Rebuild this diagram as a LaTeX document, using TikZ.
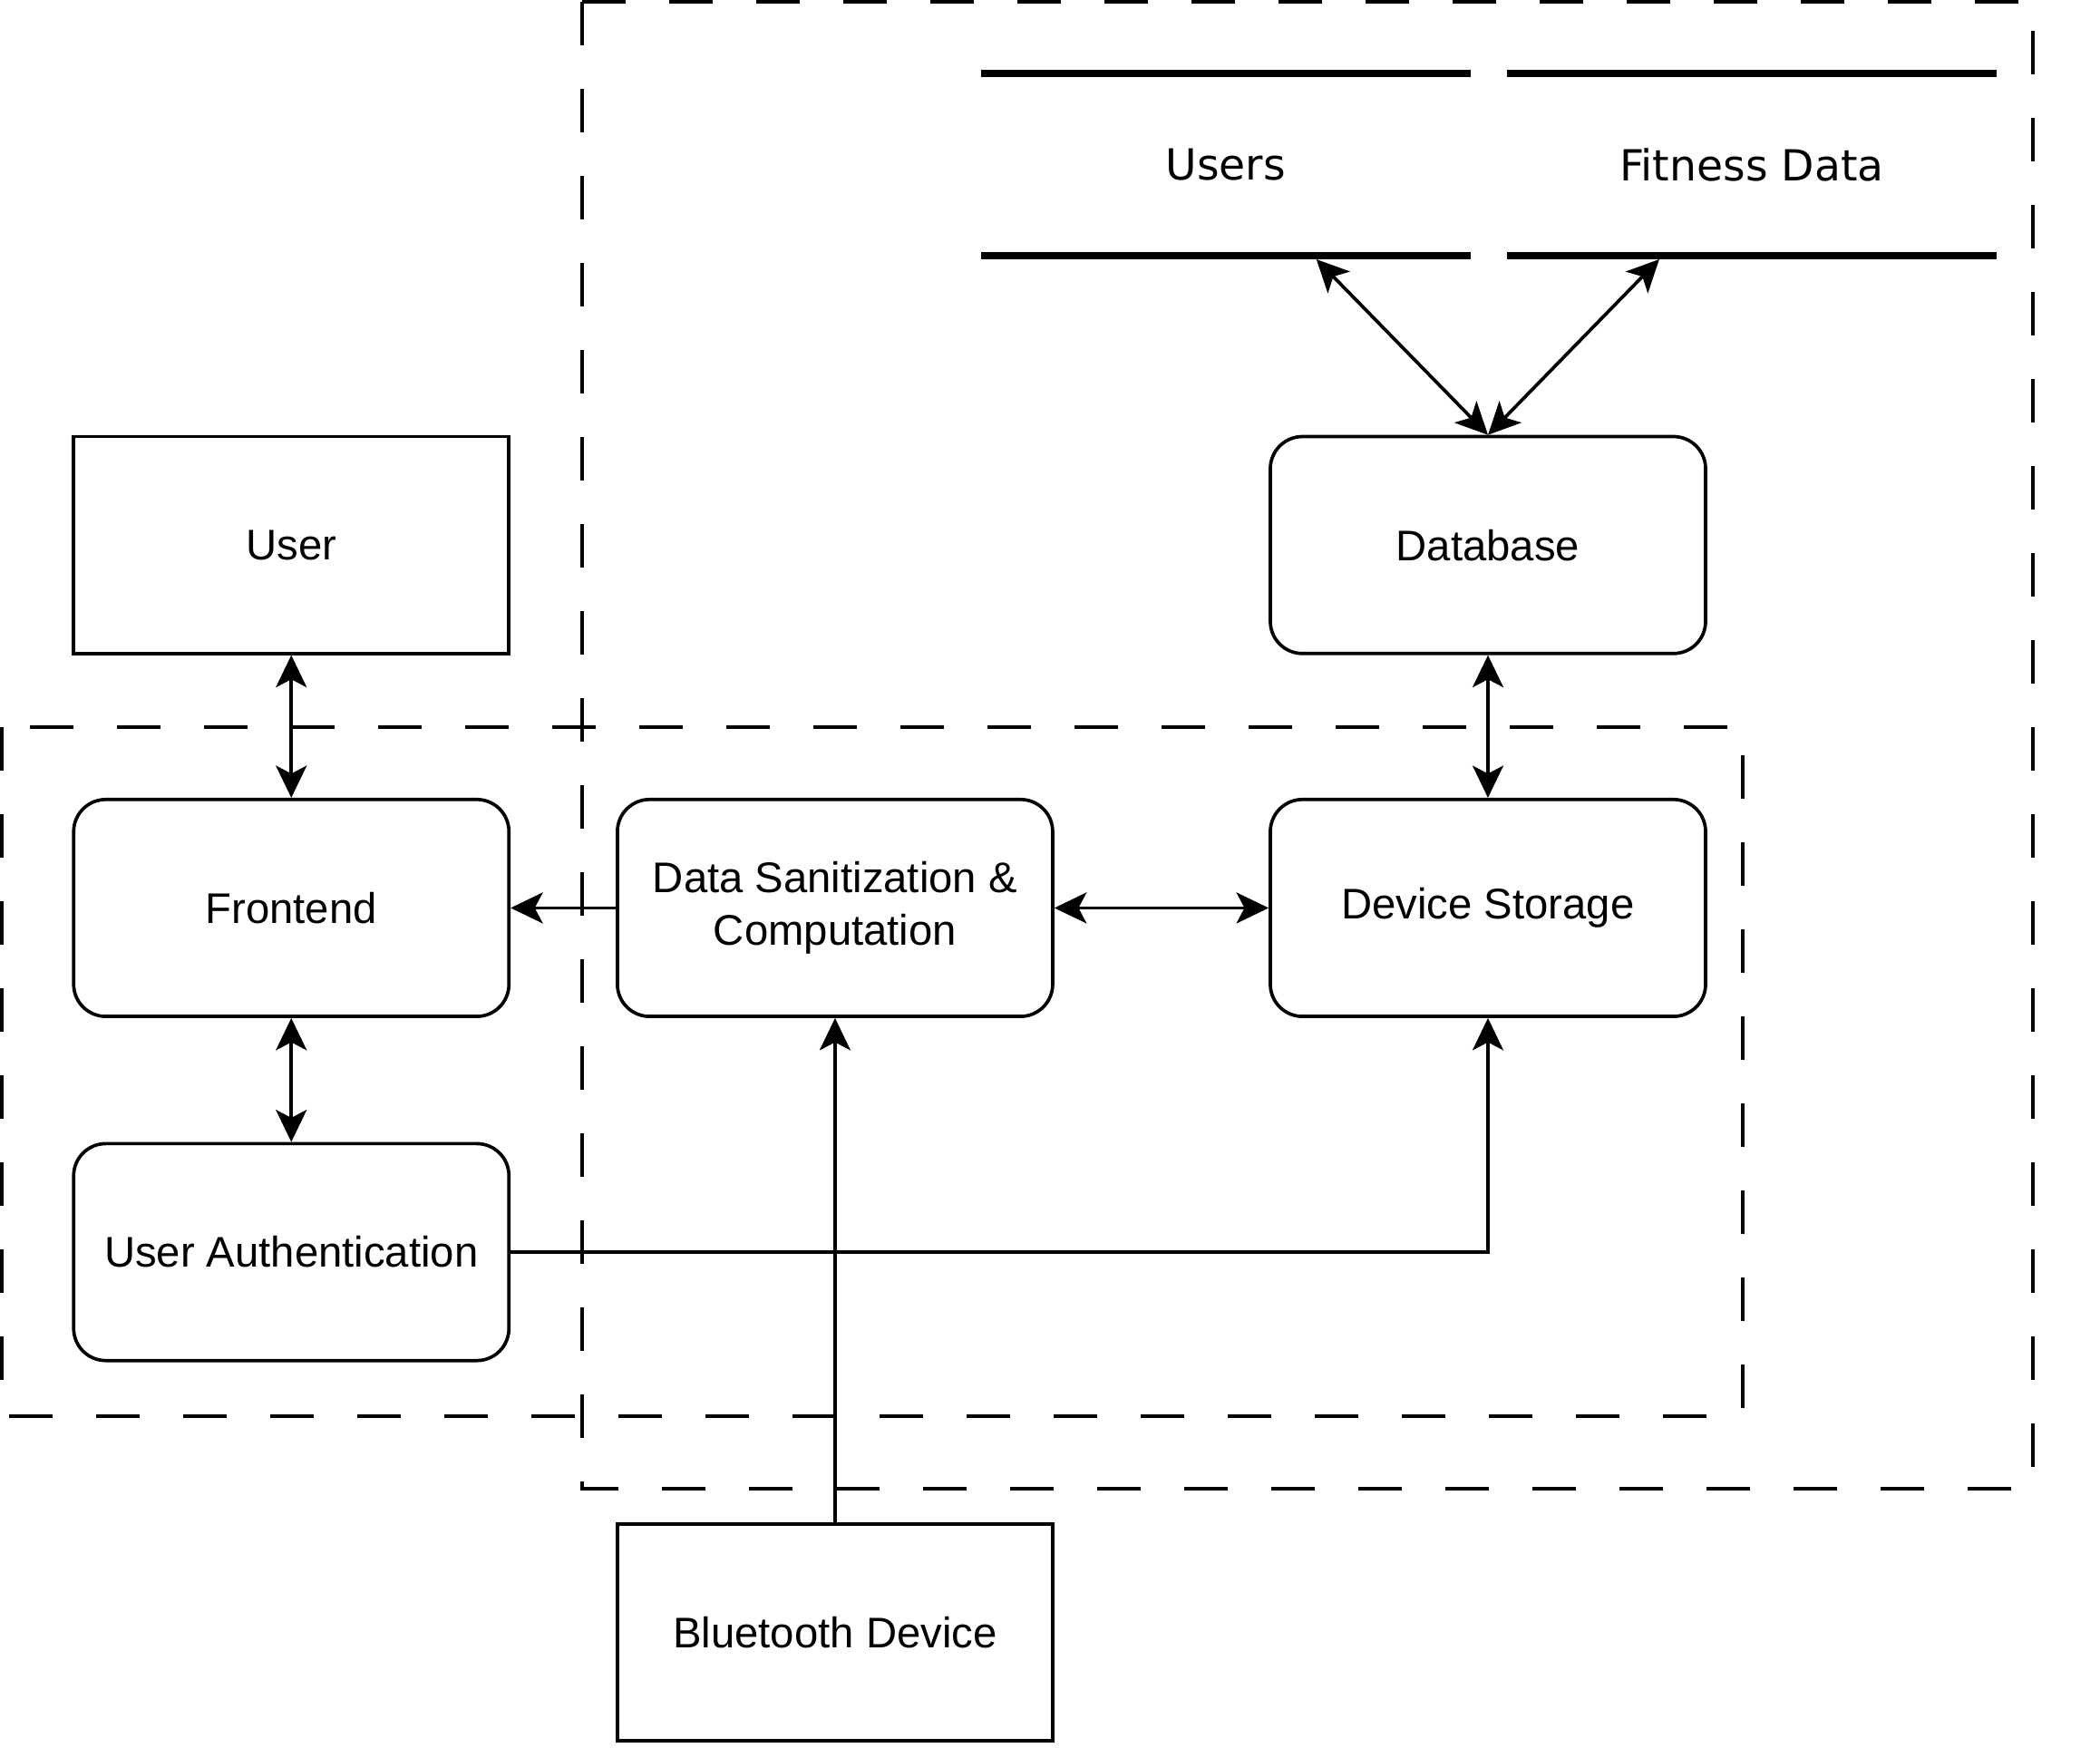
\documentclass[tikz,border=0pt]{standalone}
\usepackage{fontspec}
\setmainfont{Liberation Sans}
\newfontfamily\dejavu{DejaVu Sans}
\usetikzlibrary{arrows.meta}
\begin{document}
\begin{tikzpicture}[x=1pt,y=-1pt,
  box/.style={draw, line width=2.5pt, fill=white, minimum width=325pt, minimum height=162pt, inner sep=0pt, align=center, font=\fontsize{32}{39}\selectfont},
  rbox/.style={box, rounded corners=24pt},
  store/.style={inner sep=0pt, minimum width=365.2pt, minimum height=140.9pt, font=\dejavu\fontsize{32}{39}\selectfont},
  storeline/.style={line width=5.5pt},
  dashbox/.style={line width=2.5pt, dash pattern=on 32.5pt off 32.5pt},
  conn/.style={line width=2.5pt, -{Stealth[length=24pt,width=23pt,inset=6pt]}},
  dconn/.style={line width=2.5pt, {Stealth[length=24pt,width=23pt,inset=6pt]}-{Stealth[length=24pt,width=23pt,inset=6pt]}}
]
\useasboundingbox (0,0) rectangle (1568,1305);

% dashed boundaries
\draw[dashbox] (434.6,1.4) rectangle (1518,1111.7);
\draw[dashbox] (1.4,542.8) rectangle (1301,1057.3);

% data stores
\node[store] (users) at (915.2,123) {Users};
\node[store] (fitness) at (1307.9,123) {Fitness Data};
\foreach \s in {users,fitness}{
  \draw[storeline] ([yshift=-2.75pt]\s.north west) -- ([yshift=-2.75pt]\s.north east);
  \draw[storeline] ([yshift=2.75pt]\s.south west) -- ([yshift=2.75pt]\s.south east);
}

% boxes
\node[box]  (user) at (217.5,407) {User};
\node[rbox] (db)   at (1111,407)  {Database};
\node[rbox] (fe)   at (217.5,678) {Frontend};
\node[rbox] (ds)   at (623.5,678) {Data Sanitization \&\\Computation};
\node[rbox] (st)   at (1111,678)  {Device Storage};
\node[rbox] (ua)   at (217.5,935) {User Authentication};
\node[box]  (bt)   at (623.5,1219) {Bluetooth Device};

% connectors
\draw[dconn] (db.north) -- ([xshift=67.7pt]users.south);
\draw[dconn] (db.north) -- ([xshift=-69pt]fitness.south);
\draw[dconn] (user.south) -- (fe.north);
\draw[dconn] (fe.south) -- (ua.north);
\draw[conn] (ds.west) -- (fe.east);
\draw[dconn] (ds.east) -- (st.west);
\draw[dconn] (db.south) -- (st.north);
\draw[conn] (ua.east) -| (st.south);
\draw[conn] (bt.north) -- (ds.south);
\end{tikzpicture}
\end{document}
